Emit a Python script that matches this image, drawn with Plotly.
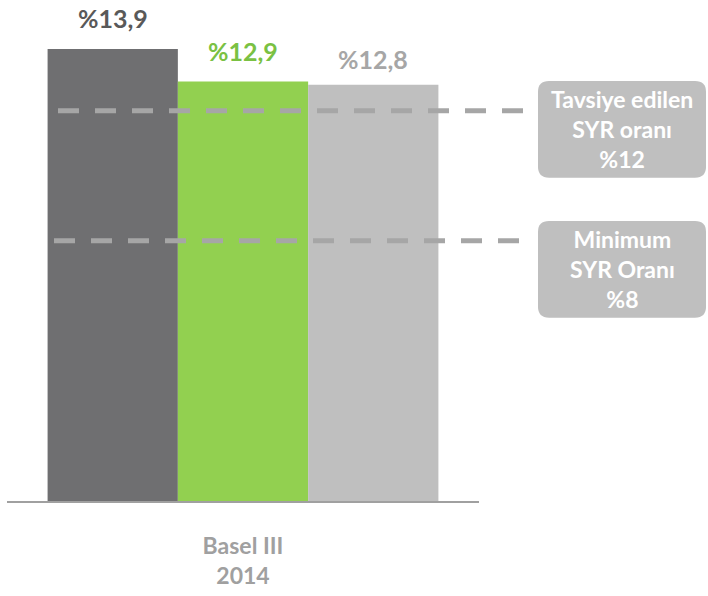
import plotly.graph_objects as go

categories = ["<b>Basel III</b><br><b>2014</b>"]
series_names = ["A", "B", "C"]
values = [13.9, 12.9, 12.8]
value_labels = ["%13,9", "%12,9", "%12,8"]
bar_colors = ["#6f6f71", "#92d050", "#bfbfbf"]
label_colors = ["#595959", "#7ac143", "#a6a6a6"]
ref_levels = [12, 8]
ref_texts = ["Tavsiye edilen<br>SYR oranı<br>%12", "Minimum<br>SYR Oranı<br>%8"]

W, H = 708, 596
L, T = 7, 20
pw = 472
ph = 508 - 20
R = W - L - pw
B = H - T - ph
FONT = "Lato, 'Open Sans', sans-serif"
bargap = 0.172

def px_x(px):
    return (px - L) / pw

def px_y(py):
    return (T + ph - py) / ph

fig = go.Figure()
for name, v, c in zip(series_names, values, bar_colors):
    fig.add_trace(go.Bar(x=categories, y=[v], name=name, marker=dict(color=c, line=dict(width=0))))

bw = (1 - bargap) / len(values)
annotations = []
for i, (v, t, c) in enumerate(zip(values, value_labels, label_colors)):
    xc = -(1 - bargap) / 2 + bw * (i + 0.5)
    annotations.append(dict(x=xc, y=v, xref="x", yref="y", text=f"<b>{t}</b>", showarrow=False,
                            xanchor="center", yanchor="bottom", yshift=[14, 13, 9][i],
                            font=dict(family=FONT, size=25, color=c)))

shapes = []
line_x = [(58, 528), (54, 524)]
box_y = [(82, 180), (224, 322)]
for lvl, (x0, x1) in zip(ref_levels, line_x):
    shapes.append(dict(type="line", xref="paper", yref="y", x0=px_x(x0), x1=px_x(x1), y0=lvl, y1=lvl,
                       line=dict(color="#a6a6a6", width=5, dash="21px,16px")))

def rounded(x0, y0, x1, y1, r):
    X = px_x; Y = px_y
    return (f"M {X(x0+r)},{Y(y0)} L {X(x1-r)},{Y(y0)} Q {X(x1)},{Y(y0)} {X(x1)},{Y(y0+r)} "
            f"L {X(x1)},{Y(y1-r)} Q {X(x1)},{Y(y1)} {X(x1-r)},{Y(y1)} "
            f"L {X(x0+r)},{Y(y1)} Q {X(x0)},{Y(y1)} {X(x0)},{Y(y1-r)} "
            f"L {X(x0)},{Y(y0+r)} Q {X(x0)},{Y(y0)} {X(x0+r)},{Y(y0)} Z")

for txt, (y0, y1) in zip(ref_texts, box_y):
    shapes.append(dict(type="path", xref="paper", yref="paper", path=rounded(538, y0, 706, y1, 11),
                       fillcolor="#bfbfbf", line=dict(width=0)))
    annotations.append(dict(x=px_x(622), y=px_y((y0 + y1) / 2), xref="paper", yref="paper",
                            xanchor="center", yanchor="middle",
                            text=f"<b>{txt}</b>", showarrow=False, align="center",
                            font=dict(family=FONT, size=23, color="white")))

fig.update_layout(
    width=W, height=H, margin=dict(l=L, r=R, t=T, b=B),
    paper_bgcolor="white", plot_bgcolor="white",
    barmode="group", bargap=bargap, bargroupgap=0,
    showlegend=False,
    xaxis=dict(showline=True, linecolor="#a0a0a0", linewidth=2, ticks="", showgrid=False,
               tickfont=dict(family=FONT, size=23, color="#a0a0a0"), ticklabelstandoff=23),
    yaxis=dict(range=[0, ph / 33.0], visible=False, showgrid=False),
    shapes=shapes, annotations=annotations,
)
fig.write_html("out.html", config={"displayModeBar": False},
               post_script="document.documentElement.style.margin='0';document.body.style.margin='0';document.body.style.padding='0';")
